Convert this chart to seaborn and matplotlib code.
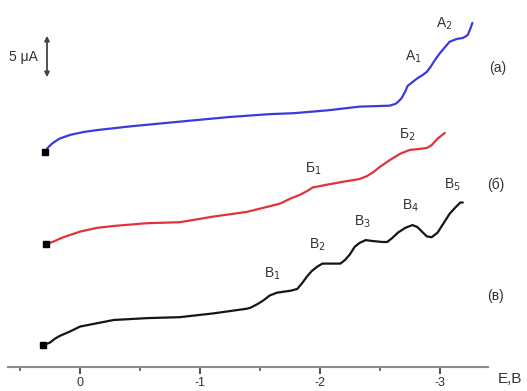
import pandas as pd
import seaborn as sns
import matplotlib.pyplot as plt

# potential (V) and current (uA, curves stacked with offsets)
e_a = [0.29, 0.27, 0.23, 0.17, 0.08, -0.03, -0.14, -0.42, -0.83, -1.25, -1.58, -1.78, -2.06,
       -2.33, -2.58, -2.63, -2.65, -2.68, -2.71, -2.73, -2.77, -2.81, -2.86, -2.89, -2.92,
       -2.96, -3.0, -3.04, -3.08, -3.14, -3.19, -3.23, -3.25, -3.27]
i_a = [22.9, 23.3, 23.8, 24.3, 24.7, 25.0, 25.2, 25.6, 26.1, 26.6, 26.9, 27.0, 27.3,
       27.7, 27.8, 28.0, 28.2, 28.6, 29.3, 29.9, 30.3, 30.7, 31.1, 31.4, 31.9,
       32.7, 33.4, 34.0, 34.6, 34.9, 35.0, 35.3, 35.9, 36.6]

e_b = [0.28, 0.23, 0.14, 0.0, -0.14, -0.28, -0.56, -0.83, -1.11, -1.39, -1.58, -1.67, -1.75,
       -1.83, -1.89, -1.94, -2.06, -2.19, -2.33, -2.39, -2.44, -2.5, -2.58, -2.67, -2.75,
       -2.83, -2.89, -2.93, -2.98, -3.04]
i_b = [13.1, 13.3, 13.8, 14.4, 14.8, 15.0, 15.3, 15.4, 16.0, 16.5, 17.1, 17.4, 17.9,
       18.3, 18.7, 19.1, 19.4, 19.7, 20.0, 20.3, 20.7, 21.3, 22.0, 22.7, 23.1,
       23.2, 23.3, 23.6, 24.3, 24.9]

e_v = [0.31, 0.27, 0.25, 0.21, 0.17, 0.08, 0.0, -0.28, -0.56, -0.83, -1.11, -1.39, -1.42,
       -1.48, -1.53, -1.58, -1.64, -1.69, -1.75, -1.81, -1.85, -1.89, -1.93, -1.98, -2.02,
       -2.08, -2.17, -2.21, -2.25, -2.29, -2.33, -2.38, -2.44, -2.52, -2.56, -2.6, -2.65,
       -2.71, -2.77, -2.81, -2.85, -2.89, -2.93, -2.98, -3.03, -3.08, -3.13, -3.17, -3.19]
i_v = [2.3, 2.5, 2.6, 3.0, 3.3, 3.8, 4.3, 5.0, 5.2, 5.3, 5.7, 6.2, 6.3,
       6.7, 7.1, 7.6, 7.9, 8.0, 8.1, 8.3, 8.9, 9.6, 10.2, 10.7, 11.0,
       11.0, 11.0, 11.4, 12.0, 12.8, 13.2, 13.5, 13.4, 13.3, 13.3, 13.7, 14.3,
       14.8, 15.1, 14.9, 14.4, 13.9, 13.8, 14.3, 15.3, 16.3, 17.0, 17.5, 17.5]

curve_names = ['(а)', '(б)', '(в)']
peak_labels = ['A$_1$', 'A$_2$', 'Б$_1$', 'Б$_2$', 'В$_1$', 'В$_2$', 'В$_3$', 'В$_4$', 'В$_5$']
tick_values = [0, -1, -2, -3]
tick_labels = ['0', '-1', '-2', '-3']

sns.set_style('white')
plt.rcParams['font.family'] = ['Liberation Sans', 'DejaVu Sans']
plt.rcParams['axes.unicode_minus'] = False

fig = plt.figure(figsize=(5.27, 3.91), dpi=100)
ax = fig.add_axes([8 / 527, 24 / 391, 480 / 527, 367 / 391])

curves = [(e_a, i_a, '#3b3bdc'), (e_b, i_b, '#e2323c'), (e_v, i_v, '#151515')]
for e, i, col in curves:
    df = pd.DataFrame({'E': e, 'I': i})
    sns.lineplot(data=df, x='E', y='I', ax=ax, color=col, lw=1.6,
                 sort=False, estimator=None, solid_joinstyle='round', solid_capstyle='round')
    ax.plot(e[0], i[0], 's', color='black', ms=4.5)

ax.set_xlim(0.6, -3.4)
ax.set_ylim(0, 367 / 9.4)
ax.set_xticks(tick_values)
ax.set_xticklabels(tick_labels, fontsize=9, color='#333333')
ax.set_xticks([0.5, -0.5, -1.5, -2.5], minor=True)
ax.set_yticks([])
ax.set_xlabel('')
ax.set_ylabel('')
for s in ['top', 'left', 'right']:
    ax.spines[s].set_visible(False)
ax.spines['bottom'].set_color('#8a8a8a')
ax.spines['bottom'].set_linewidth(1.5)
ax.tick_params(axis='x', which='major', direction='out', length=5, width=1.5,
               color='#555555', pad=2, bottom=True)
ax.tick_params(axis='x', which='minor', direction='out', length=3, width=1.2,
               color='#555555', bottom=True)

# scale bar 5 uA
ax.annotate('', xy=(0.275, 35.53), xytext=(0.275, 30.53),
            arrowprops=dict(arrowstyle='<|-|>', color='#444444', lw=1.3, mutation_scale=7))
ax.text(0.47, 33.0, '5 μA', fontsize=10, ha='center', va='center', color='#333333')

# peak labels
peak_pos = [(-2.775, 33.0), (-3.04, 36.5), (-1.94, 21.1), (-2.725, 24.7),
            (-1.6, 9.9), (-1.975, 13.0), (-2.35, 15.4), (-2.75, 17.2), (-3.1, 19.4)]
for lab, (x, y) in zip(peak_labels, peak_pos):
    ax.text(x, y, lab, fontsize=10, ha='center', va='center', color='#333333')

name_pos = [(-3.48, 31.8), (-3.465, 19.4), (-3.465, 7.55)]
for lab, (x, y) in zip(curve_names, name_pos):
    ax.text(x, y, lab, fontsize=10, ha='center', va='center', color='#333333', clip_on=False)

ax.text(-3.58, -1.3, 'E,B', fontsize=11, ha='center', va='center', color='#333333', clip_on=False)

fig.savefig('out.png', dpi=100)
